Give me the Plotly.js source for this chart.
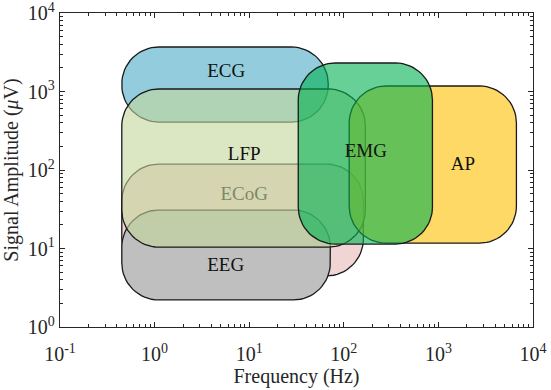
<!DOCTYPE html>
<html>
<head>
<meta charset="utf-8">
<script src="https://cdn.plot.ly/plotly-3.0.1.min.js"></script>
<style>html,body{margin:0;padding:0;background:#fff;}#chart{width:551px;height:390px;}</style>
</head>
<body>
<div id="chart"></div>
<script>
// ---- data (draw order) ----
const signals   = ['ECoG', 'EEG', 'ECG', 'LFP', 'AP', 'EMG'];
const freqMin   = [0.45, 0.45, 0.45, 0.45, 114, 33];      // Hz
const freqMax   = [161, 72, 68.5, 169, 6680, 865];         // Hz
const ampMin    = [4.47, 2.21, 408, 10.4, 11.7, 11.4];     // µV
const ampMax    = [119, 30.9, 3690, 1076, 1175, 2307];     // µV
const fillCols  = ['rgba(230,185,184,0.6)', 'rgba(191,191,191,1)', 'rgba(75,172,198,0.6)',
                   'rgba(195,214,155,0.6)', 'rgba(255,192,0,0.6)', 'rgba(0,176,80,0.6)'];

const labelNames = ['ECG', 'LFP', 'ECoG', 'EEG', 'EMG', 'AP'];
const labelFreq  = [5.72, 8.85, 8.85, 5.64, 171, 1816];
const labelAmp   = [1770, 153, 48, 5.9, 169, 116];

const xTickVals = [0.1, 1, 10, 100, 1000, 10000];
const xTickText = ['10<sup>-1</sup>', '10<sup>0</sup>', '10<sup>1</sup>', '10<sup>2</sup>', '10<sup>3</sup>', '10<sup>4</sup>'];
const yTickVals = [1, 10, 100, 1000, 10000];
const yTickText = ['10<sup>0</sup>', '10<sup>1</sup>', '10<sup>2</sup>', '10<sup>3</sup>', '10<sup>4</sup>'];

// ---- geometry helpers ----
const W = 551, H = 390;
const margin = {l: 60, r: 18, t: 13, b: 63};
const xRange = [-1, 4], yRange = [0, 4];
const pxPerDecX = (W - margin.l - margin.r) / (xRange[1] - xRange[0]);
const pxPerDecY = (H - margin.t - margin.b) / (yRange[1] - yRange[0]);
const cornerPx = 37;

function roundedBox(f0, f1, a0, a1) {
  const lx0 = Math.log10(f0), lx1 = Math.log10(f1), ly0 = Math.log10(a0), ly1 = Math.log10(a1);
  const wpx = (lx1 - lx0) * pxPerDecX, hpx = (ly1 - ly0) * pxPerDecY;
  const r = Math.min(cornerPx, wpx / 2, hpx / 2);
  const rx = r / pxPerDecX, ry = r / pxPerDecY;
  const corners = [
    [lx1 - rx, ly1 - ry, 0],
    [lx0 + rx, ly1 - ry, 90],
    [lx0 + rx, ly0 + ry, 180],
    [lx1 - rx, ly0 + ry, 270]
  ];
  const xs = [], ys = [];
  const n = 16;
  corners.forEach(([cx, cy, start]) => {
    for (let i = 0; i <= n; i++) {
      const t = (start + 90 * i / n) * Math.PI / 180;
      xs.push(Math.pow(10, cx + rx * Math.cos(t)));
      ys.push(Math.pow(10, cy + ry * Math.sin(t)));
    }
  });
  xs.push(xs[0]); ys.push(ys[0]);
  return {xs, ys};
}

// minor tick positions: 2..9 within each decade of the range
function minorVals(r) {
  const out = [];
  for (let d = r[0]; d < r[1]; d++) for (let k = 2; k <= 9; k++) out.push(k * Math.pow(10, d));
  return out;
}

const FONT = 'Liberation Serif, Times New Roman, serif';
const traces = [];
function labelTrace(idx) {
  return {
    type: 'scatter', mode: 'text',
    x: idx.map(i => labelFreq[i]), y: idx.map(i => labelAmp[i]),
    text: idx.map(i => labelNames[i]),
    textposition: 'middle center',
    textfont: {family: FONT, size: 19, color: '#111'},
    hoverinfo: 'skip', showlegend: false
  };
}
signals.forEach((s, i) => {
  if (s === 'LFP') traces.push(labelTrace([labelNames.indexOf('ECoG')]));
  const b = roundedBox(freqMin[i], freqMax[i], ampMin[i], ampMax[i]);
  traces.push({
    type: 'scatter', mode: 'lines', x: b.xs, y: b.ys, name: s,
    fill: 'toself', fillcolor: fillCols[i],
    line: {color: '#1a1a1a', width: 1.3},
    hoverinfo: 'skip', showlegend: false
  });
});
traces.push(labelTrace(labelNames.map((n, i) => i).filter(i => labelNames[i] !== 'ECoG')));

function axisCommon(r) {
  return {
    type: 'log', showgrid: false, zeroline: false,
    showline: true, linecolor: '#262626', linewidth: 1.2, mirror: 'ticks',
    ticks: 'inside', ticklen: 5, tickwidth: 1, tickcolor: '#262626',
    ticklabeloverflow: 'allow',
    minor: {tickmode: 'array', tickvals: minorVals(r), ticks: 'inside', ticklen: 3,
            tickwidth: 1, tickcolor: '#262626', showgrid: false},
    tickfont: {family: FONT, size: 20, color: '#262626'}
  };
}

const layout = {
  width: W, height: H, margin: margin,
  paper_bgcolor: '#fff', plot_bgcolor: '#fff',
  xaxis: Object.assign(axisCommon(xRange), {
    range: xRange, tickmode: 'array', tickvals: xTickVals, ticktext: xTickText,
    ticklabelstandoff: 9,
    title: {text: 'Frequency (Hz)', font: {family: FONT, size: 20, color: '#262626'}, standoff: 3}
  }),
  yaxis: Object.assign(axisCommon(yRange), {
    range: [yRange[0], yRange[1] + 1e-6], tickmode: 'array', tickvals: yTickVals, ticktext: yTickText,
    title: {text: 'Signal Amplitude (<i>μ</i>V)', font: {family: FONT, size: 20, color: '#262626'}, standoff: 4}
  })
};

Plotly.newPlot('chart', traces, layout, {staticPlot: true, displayModeBar: false});
</script>
</body>
</html>
